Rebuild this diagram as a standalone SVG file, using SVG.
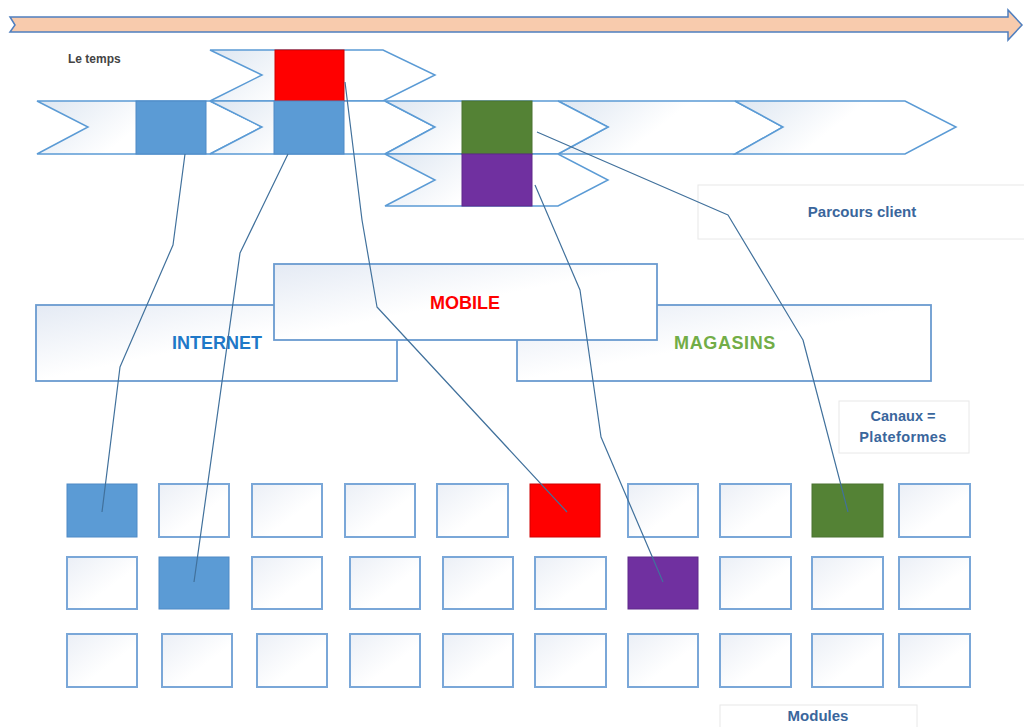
<svg xmlns="http://www.w3.org/2000/svg" width="1024" height="727" viewBox="0 0 1024 727">
<defs>
<linearGradient id="gChev" x1="0" y1="0" x2="1" y2="0.3">
<stop offset="0" stop-color="#dde6f1"/>
<stop offset="0.55" stop-color="#ffffff"/>
</linearGradient>
<linearGradient id="gBox" x1="0" y1="0" x2="1" y2="1">
<stop offset="0" stop-color="#e4eaf4"/>
<stop offset="0.5" stop-color="#ffffff"/>
</linearGradient>
<linearGradient id="gMod" x1="0" y1="0" x2="1" y2="1">
<stop offset="0" stop-color="#ebeff6"/>
<stop offset="0.6" stop-color="#ffffff"/>
</linearGradient>
</defs>
<style>
.chev{fill:url(#gChev);stroke:#5b9bd5;stroke-width:1.5;stroke-linejoin:miter}
.chan{fill:url(#gBox);stroke:#6a9bd0;stroke-width:1.8}
.mod{fill:url(#gMod);stroke:#7aa7d8;stroke-width:2}
.blue{fill:#5b9bd5;stroke:#4f8ac6;stroke-width:1}
.red{fill:#ff0000;stroke:#d00000;stroke-width:1}
.green{fill:#548235;stroke:#4a7330;stroke-width:1}
.purple{fill:#7030a0;stroke:#5e288a;stroke-width:1}
.lbl{fill:#ffffff;stroke:#e8e8e8;stroke-width:1}
.t{font-family:"Liberation Sans",Arial,sans-serif;font-weight:bold;text-anchor:middle}
.conn{fill:none;stroke:#41719c;stroke-width:1.2;stroke-linejoin:round}
</style>
<rect width="1024" height="727" fill="#ffffff"/>

<g id="time-arrow">
<polygon points="10,17 1008,17 1008,10 1022,25 1008,40 1008,32 10,32 15,25" fill="#f8cbad" stroke="#4f7fbf" stroke-width="1.5"/>
<text x="68" y="63" font-family="Liberation Sans,Arial,sans-serif" font-weight="bold" font-size="12" fill="#444444">Le temps</text>
</g>

<g id="parcours">
<polygon class="chev" points="210,50 383,50 435,75 383,101 210,101 262,75"/>
<polygon class="chev" points="37,101 210,101 262,127 210,154 37,154 88,127"/>
<polygon class="chev" points="210,101 385,101 435,127 385,154 210,154 262,127"/>
<polygon class="chev" points="558,101 735,101 783,127 735,154 558,154 608,127"/>
<polygon class="chev" points="735,101 905,101 956,127 905,154 735,154 783,127"/>
<polygon class="chev" points="385,101 558,101 608,127 558,154 385,154 435,127"/>
<polygon class="chev" points="385,154 558,154 608,180 558,206 385,206 435,180"/>
<rect class="red" x="275" y="50" width="69" height="51"/>
<rect class="blue" x="136" y="101" width="70" height="53"/>
<rect class="blue" x="274" y="101" width="70" height="53"/>
<rect class="green" x="462" y="101" width="70" height="53"/>
<rect class="purple" x="462" y="154" width="70" height="52"/>
</g>

<g id="parcours-label">
<rect class="lbl" x="698" y="185" width="330" height="54"/>
<text class="t" x="862" y="217" font-size="15" fill="#3a669c">Parcours client</text>
</g>

<g id="internet">
<rect class="chan" x="36" y="305" width="361" height="76"/>
<text class="t" x="217" y="349" font-size="18" fill="#1f78c8">INTERNET</text>
</g>
<g id="magasins">
<rect class="chan" x="517" y="305" width="414" height="76"/>
<text class="t" x="725" y="349" font-size="18" fill="#72ad47" letter-spacing="0.6">MAGASINS</text>
</g>
<g id="mobile">
<rect class="chan" x="274" y="264" width="383" height="76"/>
<text class="t" x="465" y="309" font-size="18" fill="#ff0000">MOBILE</text>
</g>

<g id="canaux-label">
<rect class="lbl" x="839" y="401" width="130" height="52"/>
<text class="t" x="903" y="421" font-size="14.5" fill="#3a669c">Canaux =</text>
<text class="t" x="903" y="442" font-size="14.5" fill="#3a669c" letter-spacing="0.4">Plateformes</text>
</g>

<g id="modules">
<rect class="blue" x="67" y="484" width="70" height="53"/>
<rect class="mod" x="159" y="484" width="70" height="53"/>
<rect class="mod" x="252" y="484" width="70" height="53"/>
<rect class="mod" x="345" y="484" width="70" height="53"/>
<rect class="mod" x="437" y="484" width="71" height="53"/>
<rect class="red" x="530" y="484" width="70" height="53"/>
<rect class="mod" x="628" y="484" width="70" height="53"/>
<rect class="mod" x="720" y="484" width="71" height="53"/>
<rect class="green" x="812" y="484" width="71" height="53"/>
<rect class="mod" x="899" y="484" width="71" height="53"/>

<rect class="mod" x="67" y="557" width="70" height="52"/>
<rect class="blue" x="159" y="557" width="70" height="52"/>
<rect class="mod" x="252" y="557" width="70" height="52"/>
<rect class="mod" x="350" y="557" width="70" height="52"/>
<rect class="mod" x="443" y="557" width="70" height="52"/>
<rect class="mod" x="535" y="557" width="71" height="52"/>
<rect class="purple" x="628" y="557" width="70" height="52"/>
<rect class="mod" x="720" y="557" width="71" height="52"/>
<rect class="mod" x="812" y="557" width="71" height="52"/>
<rect class="mod" x="899" y="557" width="71" height="52"/>

<rect class="mod" x="67" y="634" width="70" height="53"/>
<rect class="mod" x="162" y="634" width="70" height="53"/>
<rect class="mod" x="257" y="634" width="70" height="53"/>
<rect class="mod" x="350" y="634" width="70" height="53"/>
<rect class="mod" x="443" y="634" width="70" height="53"/>
<rect class="mod" x="535" y="634" width="71" height="53"/>
<rect class="mod" x="628" y="634" width="70" height="53"/>
<rect class="mod" x="720" y="634" width="71" height="53"/>
<rect class="mod" x="812" y="634" width="71" height="53"/>
<rect class="mod" x="899" y="634" width="71" height="53"/>
</g>

<g id="modules-label">
<rect class="lbl" x="720" y="705" width="197" height="30"/>
<text class="t" x="818" y="721" font-size="15" fill="#3a669c">Modules</text>
</g>

<g id="connectors">
<polyline class="conn" points="185,154 173,245 120,367 102,512"/>
<polyline class="conn" points="288,154 240,253 194,582"/>
<polyline class="conn" points="345,82 362,220 377,307 567,512"/>
<polyline class="conn" points="535,185 580,290 601,437 663,582"/>
<polyline class="conn" points="537,132 728,215 803,340 848,512"/>
</g>
</svg>
